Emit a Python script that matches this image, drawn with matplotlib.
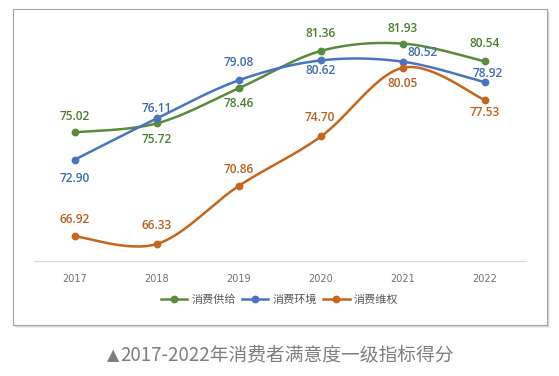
import matplotlib
matplotlib.use("Agg")
import matplotlib.pyplot as plt
from matplotlib.patches import Rectangle
import numpy as np

plt.rcParams['font.family'] = ['Noto Sans CJK SC', 'DejaVu Sans']

years = ["2017", "2018", "2019", "2020", "2021", "2022"]
supply = [75.02, 75.72, 78.46, 81.36, 81.93, 80.54]
environment = [72.90, 76.11, 79.08, 80.62, 80.52, 78.92]
rights = [66.92, 66.33, 70.86, 74.70, 80.05, 77.53]
series_names = ["消费供给", "消费环境", "消费维权"]
caption_mark = "▲"
caption = "2017-2022年消费者满意度一级指标得分"

colors = ["#5B8A3C", "#4A74C0", "#C5651E"]
label_colors = ["#4F7A33", "#3F6AAE", "#B9601F"]
# label offsets in pixels (dx, dy)
offsets = [
    [(0, 16), (0, -16), (0, -15), (0, 17), (0, 15), (0, 18)],
    [(0, -19), (0, 10), (0, 18), (0, -10), (20, 9), (3, 9)],
    [(0, 17), (0, 18), (0, 16), (-1, 19), (0, -16), (0, -12)],
]


def smooth(xs, ys, n=30):
    pts = np.column_stack([xs, ys]).astype(float)
    m = len(pts)
    out = []
    for i in range(m - 1):
        p0 = pts[max(i - 1, 0)]
        p1 = pts[i]
        p2 = pts[i + 1]
        p3 = pts[min(i + 2, m - 1)]
        c1 = p1 + (p2 - p0) / 6.0
        c2 = p2 - (p3 - p1) / 6.0
        t = np.linspace(0, 1, n)[:, None]
        seg = ((1 - t) ** 3) * p1 + 3 * ((1 - t) ** 2) * t * c1 + 3 * (1 - t) * t ** 2 * c2 + t ** 3 * p2
        if i > 0:
            seg = seg[1:]
        out.append(seg)
    out = np.vstack(out)
    return out[:, 0], out[:, 1]


fig = plt.figure(figsize=(5.59, 3.76), dpi=100)
W, H = 559, 376

# chart frame with shadow
for k, a in [(3, 0.06), (2, 0.10), (1, 0.16)]:
    fig.patches.append(Rectangle(((13 + k) / W, 1 - (325 + k) / H), 534 / W, 316 / H,
                                 transform=fig.transFigure, facecolor="#000000", alpha=a,
                                 edgecolor="none", zorder=0))
fig.patches.append(Rectangle((13 / W, 1 - 325 / H), 534 / W, 316 / H,
                             transform=fig.transFigure, facecolor="white",
                             edgecolor="#A6A6A6", linewidth=0.8, zorder=0.5))

ax = fig.add_axes([34 / W, 1 - 261 / H, 492 / W, 244 / H])
ax.set_zorder(2)
ax.set_facecolor("none")
x = np.arange(len(years))
for vals, name, c, lc, offs in zip([supply, environment, rights], series_names, colors, label_colors, offsets):
    sx, sy = smooth(x, vals)
    ax.plot(sx, sy, color=c, linewidth=1.8, solid_capstyle="round", zorder=3, clip_on=False)
    ax.plot(x, vals, linestyle="none", marker="o", markersize=4.6, color=c, zorder=4, clip_on=False)
    ax.plot([], [], color=c, linewidth=1.8, marker="o", markersize=4.6, label=name)
    for xi, v, (dx, dy) in zip(x, vals, offs):
        ax.annotate(f"{v:.2f}", (xi, v), xytext=(dx, dy), textcoords="offset pixels",
                    ha="center", va="center", fontsize=8.6, fontweight="semibold",
                    color=lc, family=["Open Sans", "DejaVu Sans"], zorder=5)

ax.set_xlim(-0.5, 5.5)
ax.set_ylim(65, 84)
ax.set_xticks(x)
ax.set_xticklabels(years, fontsize=7, color="#707070", family=["DejaVu Sans"])
ax.tick_params(axis="x", length=0, pad=9)
ax.set_yticks([])
for s in ["top", "left", "right"]:
    ax.spines[s].set_visible(False)
ax.spines["bottom"].set_color("#D9D9D9")
ax.spines["bottom"].set_linewidth(0.9)

leg = fig.legend(loc="center", bbox_to_anchor=(0.5, 1 - 300 / H), ncol=3, frameon=False,
                 fontsize=8, handlelength=2.4, handletextpad=0.4, columnspacing=0.5,
                 labelcolor="#595959")
leg.set_zorder(3)

cap = fig.text(0.5 + 7 / W, 1 - 355 / H, caption, ha="center", va="center",
               fontsize=13.5, color="#7F7F7F")
fig.canvas.draw()
bb = cap.get_window_extent()
fig.text((bb.x0 - 1) / W, 1 - 356 / H, caption_mark, ha="right", va="center",
         fontsize=11.5, color="#7F7F7F", family=["DejaVu Sans"])

fig.savefig("out.png", dpi=100)
